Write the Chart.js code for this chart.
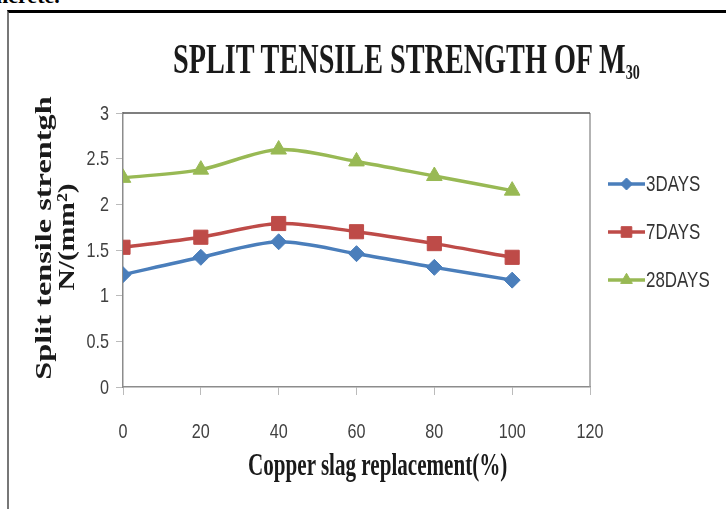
<!DOCTYPE html>
<html lang="en">
<head>
  <meta charset="UTF-8" />
  <title>Split tensile strength of M30</title>
  <script src="https://cdn.jsdelivr.net/npm/chart.js@4.4.0/dist/chart.umd.min.js"></script>
  <style>
    html, body {
      margin: 0;
      padding: 0;
      background: #fff;
      overflow: hidden;
    }
    #wrap {
      position: relative;
      width: 726px;
      height: 509px;
      overflow: hidden;
    }
    #frame {
      position: absolute;
      left: 7px;
      top: 10px;
      width: 800px;
      height: 600px;
      border-top: 3px solid #000;
      border-left: 2px solid #777;
    }
    #cut {
      position: absolute;
      left: -4px;
      top: -17px;
      font: bold 22px 'Liberation Serif', serif;
      color: #000;
    }
    canvas {
      position: absolute;
      left: 0;
      top: 0;
    }
    .txt {
      position: absolute;
      white-space: nowrap;
      font-family: 'Liberation Serif', serif;
      font-weight: bold;
      line-height: 1;
      color: #1a1a1a;
    }
    #title {
      font-size: 42px;
      left: 173px;
      top: 38px;
      transform-origin: 0 0;
    }
    #title sub {
      font-size: 0.5em;
      vertical-align: -0.28em;
    }
    #xTitle {
      font-size: 32px;
      top: 448px;
    }
    .yT {
      font-size: 24px;
    }
  </style>
</head>
<body>
  <div id="wrap">
    <div id="frame"></div>
    <div id="cut">ncrete.</div>
    <canvas id="chart" width="726" height="509"></canvas>
    <div id="title" class="txt">SPLIT TENSILE STRENGTH OF M<sub>30</sub></div>
    <div id="xTitle" class="txt">Copper slag replacement(%)</div>
    <div id="yTitle1" class="txt yT">Split tensile strentgh</div>
    <div id="yTitle2" class="txt yT">N/(mm²)</div>
  </div>

<script>
  // dados
  const replacement = [0, 20, 40, 60, 80, 100];
  const days3 = [1.23, 1.42, 1.59, 1.46, 1.31, 1.17];
  const days7 = [1.53, 1.64, 1.79, 1.70, 1.57, 1.42];
  const days28 = [2.29, 2.38, 2.60, 2.47, 2.31, 2.15];
  const seriesNames = ['3DAYS', '7DAYS', '28DAYS'];
  const xTicks = [0, 20, 40, 60, 80, 100, 120];
  const yTicks = [0, 0.5, 1, 1.5, 2, 2.5, 3];

  const tickFont = "'Liberation Sans', Arial, sans-serif";
  const squeeze = 0.77; // fonte condensada tipo Calibri

  // ajusta largura dos textos html (fonte condensada)
  function fitWidth(el, target) {
    return target / el.offsetWidth;
  }

  const title = document.getElementById('title');
  title.style.transform = `scaleX(${fitWidth(title, 467)})`;

  const xTitle = document.getElementById('xTitle');
  const sx = fitWidth(xTitle, 259);
  xTitle.style.left = (377 - xTitle.offsetWidth / 2) + 'px';
  xTitle.style.transform = `scaleX(${sx})`;

  function placeRotated(el, cx, cy, len) {
    const s = fitWidth(el, len);
    el.style.left = (cx - el.offsetWidth / 2) + 'px';
    el.style.top = (cy - el.offsetHeight / 2) + 'px';
    el.style.transform = `rotate(-90deg) scaleX(${s})`;
  }
  placeRotated(document.getElementById('yTitle1'), 43, 238, 283);
  placeRotated(document.getElementById('yTitle2'), 65, 237, 107);

  function toPoints(ys) {
    return replacement.map((x, i) => ({ x: x, y: ys[i] }));
  }

  const colors = ['#4A7EBB', '#BE4B48', '#98B954'];
  const styles = ['rectRot', 'rect', 'triangle'];
  const radii = [8, 10, 9];

  // texto estreito desenhado com escala horizontal
  function narrowText(ctx, text, x, y, align) {
    ctx.save();
    ctx.translate(x, y);
    ctx.scale(squeeze, 1);
    ctx.textAlign = align;
    ctx.textBaseline = 'middle';
    ctx.fillText(text, 0, 0);
    ctx.restore();
  }

  // moldura da área do gráfico
  const plotBorder = {
    id: 'plotBorder',
    beforeDatasetsDraw(chart) {
      const { ctx, chartArea: a } = chart;
      ctx.save();
      ctx.strokeStyle = '#9a9a9a';
      ctx.lineWidth = 1.5;
      ctx.beginPath();
      ctx.moveTo(a.right, a.top);
      ctx.lineTo(a.right, a.bottom);
      ctx.stroke();
      ctx.strokeStyle = '#555';
      ctx.beginPath();
      ctx.moveTo(a.left, a.top);
      ctx.lineTo(a.right, a.top);
      ctx.stroke();
      ctx.restore();
    }
  };

  // rótulos dos eixos (condensados)
  const tickLabels = {
    id: 'tickLabels',
    afterDraw(chart) {
      const ctx = chart.ctx;
      const xs = chart.scales.x, ys = chart.scales.y;
      ctx.save();
      ctx.fillStyle = '#404040';
      ctx.font = '21px ' + tickFont;
      xTicks.forEach(v => {
        narrowText(ctx, String(v), xs.getPixelForValue(v), chart.chartArea.bottom + 45, 'center');
      });
      yTicks.forEach(v => {
        narrowText(ctx, String(v), chart.chartArea.left - 14, ys.getPixelForValue(v) + 1, 'right');
      });
      ctx.restore();
    }
  };

  // legenda com linha + marcador (estilo Excel)
  const lineLegend = {
    id: 'lineLegend',
    afterDraw(chart) {
      const ctx = chart.ctx;
      const x0 = 608, x1 = 645;
      chart.data.datasets.forEach((ds, i) => {
        const y = 184 + i * 48;
        ctx.save();
        ctx.strokeStyle = ds.borderColor;
        ctx.lineWidth = 3.5;
        ctx.beginPath();
        ctx.moveTo(x0, y);
        ctx.lineTo(x1, y);
        ctx.stroke();
        ctx.fillStyle = ds.backgroundColor;
        ctx.strokeStyle = ds.borderColor;
        ctx.lineWidth = 1;
        Chart.helpers.drawPoint(ctx, {
          pointStyle: ds.pointStyle,
          radius: ds.pointRadius * 0.75,
          borderWidth: 1,
          rotation: 0
        }, (x0 + x1) / 2, y);
        ctx.fillStyle = '#333';
        ctx.font = '22px ' + tickFont;
        narrowText(ctx, ds.label, x1 + 1, y + 1, 'left');
        ctx.restore();
      });
    }
  };

  const seriesData = [days3, days7, days28];

  new Chart(document.getElementById('chart').getContext('2d'), {
    type: 'line',
    data: {
      datasets: seriesData.map((vals, i) => ({
        label: seriesNames[i],
        data: toPoints(vals),
        borderColor: colors[i],
        backgroundColor: colors[i],
        borderWidth: 3.5,
        pointStyle: styles[i],
        pointRadius: radii[i],
        pointBorderWidth: 1,
        tension: 0.3,
        fill: false
      }))
    },
    options: {
      responsive: false,
      animation: false,
      layout: {
        padding: { left: 83, right: 136, top: 113, bottom: 72 }
      },
      plugins: {
        legend: { display: false },
        title: { display: false },
        tooltip: { enabled: false }
      },
      scales: {
        x: {
          type: 'linear',
          min: 0,
          max: 120,
          afterBuildTicks(scale) {
            scale.ticks = xTicks.map(v => ({ value: v }));
          },
          afterFit(scale) { scale.height = 50; },
          border: { color: '#8c8c8c', width: 1.5 },
          grid: {
            drawOnChartArea: false,
            drawTicks: true,
            tickLength: 8,
            color: '#bbb'
          },
          ticks: { display: false }
        },
        y: {
          min: 0,
          max: 3,
          afterBuildTicks(scale) {
            scale.ticks = yTicks.map(v => ({ value: v }));
          },
          afterFit(scale) { scale.width = 40; },
          border: { color: '#8c8c8c', width: 1.5 },
          grid: {
            drawOnChartArea: false,
            drawTicks: true,
            tickLength: 7,
            color: '#bbb'
          },
          ticks: { display: false }
        }
      }
    },
    plugins: [plotBorder, tickLabels, lineLegend]
  });
</script>
</body>
</html>
